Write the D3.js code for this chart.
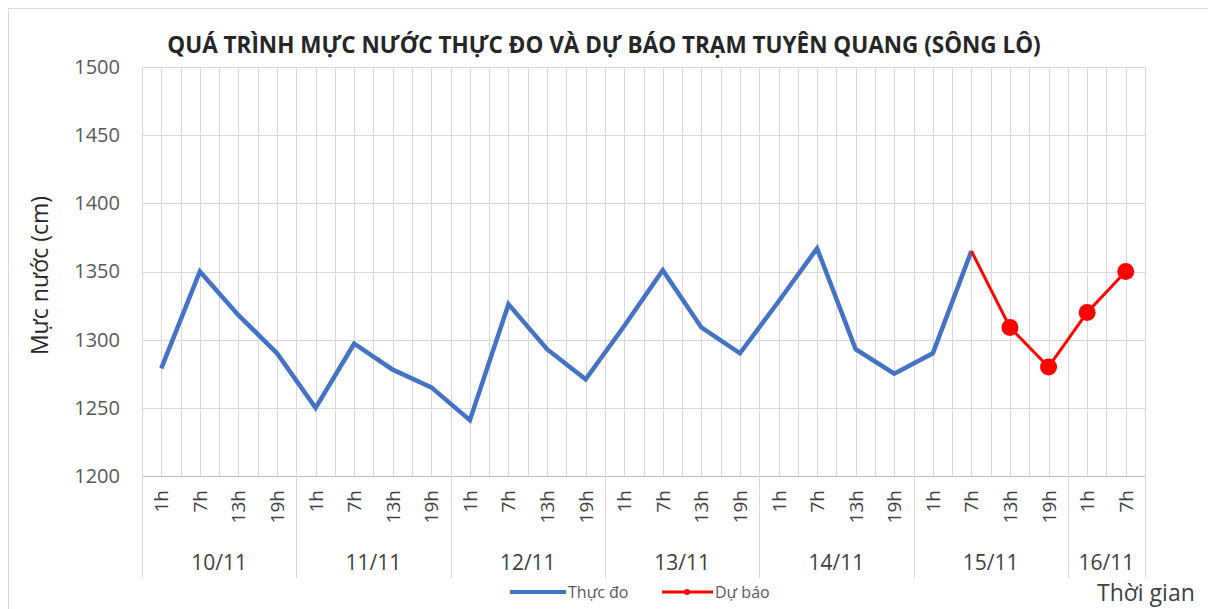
<!DOCTYPE html>
<html>
<head>
<meta charset="utf-8">
<script src="https://cdn.jsdelivr.net/npm/d3@7"></script>
<style>
  body { margin: 0; background: #fff; }
  svg { display: block; font-family: "Open Sans", "Noto Sans", sans-serif; }
</style>
</head>
<body>
<div id="app"></div>
<script>
(function (d3) {
  'use strict'

  // data
  const days = ['10/11', '11/11', '12/11', '13/11', '14/11', '15/11', '16/11']
  const hoursPerDay = [4, 4, 4, 4, 4, 4, 2]
  const hours = ['1h', '7h', '13h', '19h']
  const measured = [1279, 1350, 1318, 1290, 1250, 1297, 1278, 1265, 1241, 1326, 1293, 1271,
    1310, 1351, 1309, 1290, 1328, 1367, 1293, 1275, 1290, 1365]
  const forecast = [null, null, null, null, null, null, null, null, null, null, null, null,
    null, null, null, null, null, null, null, null, null, 1365, 1309, 1280, 1320, 1350]
  const yTicks = [1200, 1250, 1300, 1350, 1400, 1450, 1500]

  const w = 1208
  const h = 609
  const plot = {left: 142, right: 1145, top: 67, bottom: 476}

  // one label per slot
  const slots = []
  days.forEach(function (d, di) {
    for (let k = 0; k < hoursPerDay[di]; k++) slots.push({day: d, hour: hours[k], i: slots.length})
  })

  const svg = d3.select('#app').append('svg')
    .attr('width', w)
    .attr('height', h)

  svg.append('rect')
    .attr('x', 8.5).attr('y', 8.5)
    .attr('width', w - 8).attr('height', h - 8)
    .attr('fill', '#fff').attr('stroke', '#d9d9d9')

  const x = d3.scaleBand()
    .domain(slots.map((d) => d.i))
    .range([plot.left, plot.right])
  const bw = x.bandwidth()
  const cx = (i) => x(i) + bw / 2

  const y = d3.scaleLinear()
    .domain([1200, 1500])
    .range([plot.bottom, plot.top])

  // gridlines
  const grid = svg.append('g').attr('stroke', '#d9d9d9').attr('stroke-width', 1)
  grid.selectAll('line.h')
    .data(yTicks.slice(1))
    .enter().append('line')
    .attr('x1', plot.left).attr('x2', plot.right)
    .attr('y1', (d) => Math.round(y(d)) + 0.5).attr('y2', (d) => Math.round(y(d)) + 0.5)
  const vlines = []
  slots.forEach(function (s) {
    vlines.push(x(s.i) + bw / 2)
    if (s.i > 0) vlines.push(x(s.i))
  })
  vlines.push(plot.right)
  grid.selectAll('line.v')
    .data(vlines)
    .enter().append('line')
    .attr('x1', (d) => Math.round(d) + 0.5).attr('x2', (d) => Math.round(d) + 0.5)
    .attr('y1', plot.top).attr('y2', plot.bottom)

  // y axis
  const yAxis = svg.append('g')
    .attr('transform', 'translate(' + plot.left + ',0)')
    .call(d3.axisLeft(y).tickValues(yTicks).tickFormat(d3.format('d')).tickSize(0).tickPadding(22))
  yAxis.select('.domain').attr('stroke', '#d9d9d9')
  yAxis.selectAll('text')
    .attr('font-size', 20).attr('fill', '#595959')
    .attr('font-family', '"Open Sans", sans-serif')

  svg.append('text')
    .attr('transform', 'translate(48,' + ((plot.top + plot.bottom) / 2 + 4) + ') rotate(-90)')
    .attr('text-anchor', 'middle')
    .attr('font-size', 23)
    .attr('fill', '#262626')
    .text('Mực nước (cm)')

  // x axis: hours then days
  svg.append('line')
    .attr('x1', plot.left).attr('x2', plot.right)
    .attr('y1', plot.bottom + 0.5).attr('y2', plot.bottom + 0.5)
    .attr('stroke', '#bfbfbf')

  svg.append('g').selectAll('text')
    .data(slots)
    .enter().append('text')
    .attr('transform', (d) => 'translate(' + (cx(d.i) + 7) + ',490) rotate(-90)')
    .attr('text-anchor', 'end')
    .attr('font-size', 19)
    .attr('fill', '#404040')
    .text((d) => d.hour)

  const bounds = [0]
  hoursPerDay.forEach((n, i) => bounds.push(bounds[i] + n))
  svg.append('g').selectAll('line')
    .data(bounds)
    .enter().append('line')
    .attr('x1', (d) => Math.round(d < slots.length ? x(d) : plot.right) + 0.5)
    .attr('x2', (d) => Math.round(d < slots.length ? x(d) : plot.right) + 0.5)
    .attr('y1', plot.bottom).attr('y2', 578)
    .attr('stroke', '#d9d9d9')

  svg.append('g').selectAll('text')
    .data(days)
    .enter().append('text')
    .attr('x', function (d, i) {
      const a = x(bounds[i])
      const b = bounds[i + 1] < slots.length ? x(bounds[i + 1]) : plot.right
      return (a + b) / 2
    })
    .attr('y', 570)
    .attr('text-anchor', 'middle')
    .attr('font-size', 21)
    .attr('fill', '#404040')
    .text((d) => d)

  // series
  const line = d3.line()
    .defined((d) => d != null)
    .x((d, i) => cx(i))
    .y((d) => y(d))

  svg.append('path')
    .datum(measured)
    .attr('fill', 'none')
    .attr('stroke', '#4472C4')
    .attr('stroke-width', 4.5)
    .attr('stroke-linejoin', 'miter')
    .attr('d', line)

  svg.append('path')
    .datum(forecast)
    .attr('fill', 'none')
    .attr('stroke', '#ff0000')
    .attr('stroke-width', 3)
    .attr('d', line)

  svg.append('g').selectAll('circle')
    .data(forecast.map((v, i) => ({v: v, i: i})).filter((d) => d.v != null).slice(1))
    .enter().append('circle')
    .attr('cx', (d) => cx(d.i))
    .attr('cy', (d) => y(d.v))
    .attr('r', 8.5)
    .attr('fill', '#ff0000')

  // title
  svg.append('text')
    .attr('x', 604).attr('y', 53)
    .attr('text-anchor', 'middle')
    .attr('font-size', 22.5)
    .attr('font-weight', 'bold')
    .attr('fill', '#262626')
    .text('QUÁ TRÌNH MỰC NƯỚC THỰC ĐO VÀ DỰ BÁO TRẠM TUYÊN QUANG (SÔNG LÔ)')

  // legend
  const legend = svg.append('g').attr('font-size', 16).attr('fill', '#595959')
  legend.append('line')
    .attr('x1', 510).attr('x2', 566).attr('y1', 592).attr('y2', 592)
    .attr('stroke', '#4472C4').attr('stroke-width', 4)
  legend.append('text').attr('x', 568).attr('y', 598).text('Thực đo')
  legend.append('line')
    .attr('x1', 662).attr('x2', 713).attr('y1', 592).attr('y2', 592)
    .attr('stroke', '#ff0000').attr('stroke-width', 3)
  legend.append('circle').attr('cx', 687).attr('cy', 592).attr('r', 3).attr('fill', '#ff0000')
  legend.append('text').attr('x', 715).attr('y', 598).text('Dự báo')

  svg.append('text')
    .attr('x', 1097).attr('y', 601)
    .attr('font-size', 23)
    .attr('fill', '#404040')
    .text('Thời gian')

}(d3))
</script>
</body>
</html>
